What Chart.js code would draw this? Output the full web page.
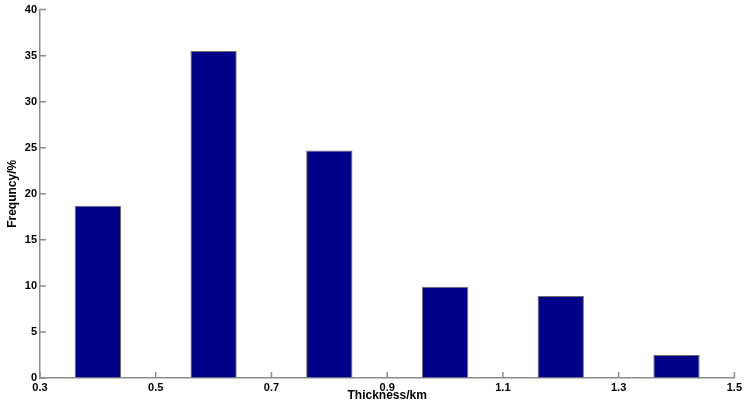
<!DOCTYPE html>
<html>
<head>
<meta charset="utf-8">
<script src="https://cdn.jsdelivr.net/npm/chart.js@4/dist/chart.umd.min.js"></script>
<style>
  html, body { margin: 0; padding: 0; background: #fff; }
  #wrap { width: 745px; height: 406px; }
</style>
</head>
<body>
<div id="wrap"><canvas id="chart" width="745" height="406"></canvas></div>
<script>
// data
const thickness = [0.4, 0.6, 0.8, 1.0, 1.2, 1.4];
const frequency = [18.7, 35.5, 24.7, 9.9, 8.9, 2.5];
const xTickValues = [0.3, 0.5, 0.7, 0.9, 1.1, 1.3, 1.5];
const yTickValues = [0, 5, 10, 15, 20, 25, 30, 35, 40];

const axisColor = '#8c8c8c';
const font = { family: 'Arial, "Liberation Sans", sans-serif', size: 11, weight: 'bold' };
const titleFont = { family: 'Arial, "Liberation Sans", sans-serif', size: 12, weight: 'bold' };

// matlab style ticks pointing into the plot
const innerTicks = {
  id: 'innerTicks',
  afterDatasetsDraw(chart) {
    const ctx = chart.ctx;
    const x = chart.scales.x, y = chart.scales.y;
    ctx.save();
    ctx.strokeStyle = axisColor;
    ctx.lineWidth = 1.5;
    ctx.beginPath();
    x.ticks.forEach(t => {
      const px = x.getPixelForValue(t.value);
      ctx.moveTo(px, y.bottom);
      ctx.lineTo(px, y.bottom - 6);
    });
    y.ticks.forEach(t => {
      const py = y.getPixelForValue(t.value);
      ctx.moveTo(x.left, py);
      ctx.lineTo(x.left + 6, py);
    });
    ctx.stroke();
    ctx.restore();
  }
};

new Chart(document.getElementById('chart'), {
  type: 'bar',
  data: {
    datasets: [{
      data: thickness.map((t, i) => ({ x: t, y: frequency[i] })),
      backgroundColor: '#000088',
      borderColor: '#6e6e6e',
      borderWidth: 1,
      barPercentage: 0.4,
      categoryPercentage: 1.0
    }]
  },
  options: {
    responsive: false,
    animation: false,
    layout: { padding: { left: 0, right: 10, top: 7, bottom: 0 } },
    plugins: { legend: { display: false }, tooltip: { enabled: false } },
    scales: {
      x: {
        type: 'linear',
        offset: false,
        min: 0.3,
        max: 1.5,
        afterBuildTicks: s => { s.ticks = xTickValues.map(v => ({ value: v })); },
        afterFit: s => { s.height = 28; },
        grid: { display: true, drawOnChartArea: false, drawTicks: false },
        border: { display: true, color: axisColor, width: 1.5 },
        ticks: {
          color: '#000',
          font: font,
          padding: 3,
          maxRotation: 0,
          autoSkip: false,
          callback: v => v.toFixed(1)
        },
        title: {
          display: true,
          text: 'Thickness/km',
          color: '#000',
          font: titleFont,
          padding: { top: 0, bottom: 3 }
        }
      },
      y: {
        min: 0,
        max: 40,
        afterBuildTicks: s => { s.ticks = yTickValues.map(v => ({ value: v })); },
        afterFit: s => { s.width = 40; },
        grid: { display: true, drawOnChartArea: false, drawTicks: false },
        border: { display: true, color: axisColor, width: 1.5 },
        ticks: { color: '#000', font: font, padding: 3 },
        title: {
          display: true,
          text: 'Frequncy/%',
          color: '#000',
          font: titleFont,
          padding: { top: 5, bottom: 0 }
        }
      }
    }
  },
  plugins: [innerTicks]
});
</script>
</body>
</html>
